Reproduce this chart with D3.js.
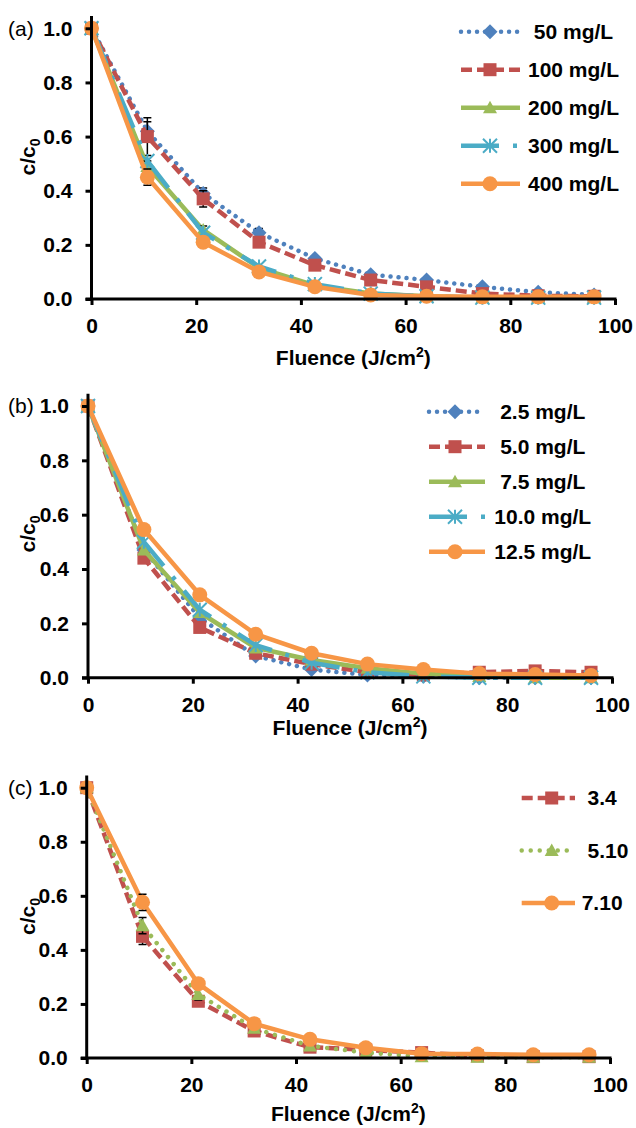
<!DOCTYPE html>
<html><head><meta charset="utf-8">
<script src="https://cdn.jsdelivr.net/npm/d3@7"></script>
<style>
body{margin:0;background:#fff}
svg text{font-family:Arial,"Liberation Sans",sans-serif;white-space:pre}
</style>
</head><body>
<svg id="chart" width="636" height="1128"></svg>
<script>
// ---------- data ----------
const fluence = [0, 10.67, 21.33, 32, 42.67, 53.33, 64, 74.67, 85.33, 96];
const xTicks = [0, 20, 40, 60, 80, 100];
const yTicks = [0, 0.2, 0.4, 0.6, 0.8, 1.0];
const panelTags = ["(a)", "(b)", "(c)"];
const xTitle = "Fluence (J/cm";
const yTitle = "c/c";

// panel (a)
const labelsA = [" 50 mg/L", "100 mg/L", "200 mg/L", "300 mg/L", "400 mg/L"];
const a50  = [1.0, 0.62, 0.39, 0.245, 0.15, 0.09, 0.07, 0.045, 0.025, 0.015];
const a100 = [1.0, 0.60, 0.37, 0.21, 0.125, 0.07, 0.045, 0.02, 0.012, 0.01];
const a200 = [1.0, 0.49, 0.255, 0.115, 0.05, 0.02, 0.01, 0.005, 0.005, 0.005];
const a300 = [1.0, 0.51, 0.245, 0.12, 0.055, 0.02, 0.01, 0.005, 0.005, 0.005];
const a400 = [1.0, 0.45, 0.21, 0.10, 0.045, 0.015, 0.01, 0.008, 0.008, 0.008];
const errA50  = [0, 0.035, 0.02, 0.015, 0.01, 0, 0, 0, 0, 0];
const errA100 = [0, 0.07, 0.03, 0.01, 0.01, 0, 0, 0, 0, 0];
const errA200 = [0, 0.02, 0.015, 0, 0, 0, 0, 0, 0, 0];
const errA300 = [0, 0, 0, 0, 0, 0, 0, 0, 0, 0];
const errA400 = [0, 0.03, 0.01, 0, 0, 0, 0, 0, 0, 0];

// panel (b)
const labelsB = [" 2.5 mg/L", " 5.0 mg/L", " 7.5 mg/L", "10.0 mg/L", "12.5 mg/L"];
const b25  = [1.0, 0.47, 0.22, 0.08, 0.03, 0.01, 0.005, 0.0, 0.0, 0.0];
const b50  = [1.0, 0.44, 0.185, 0.09, 0.05, 0.02, 0.01, 0.02, 0.025, 0.02];
const b75  = [1.0, 0.47, 0.24, 0.11, 0.065, 0.035, 0.015, 0.005, 0.0, 0.0];
const b100 = [1.0, 0.50, 0.25, 0.12, 0.055, 0.02, 0.005, 0.0, 0.0, 0.0];
const b125 = [1.0, 0.545, 0.305, 0.16, 0.09, 0.05, 0.03, 0.015, 0.012, 0.008];

// panel (c)
const labelsC = [" 3.4", " 5.10", "7.10"];
const c34  = [1.0, 0.45, 0.21, 0.10, 0.04, 0.03, 0.02, 0.008, 0.005, 0.005];
const c510 = [1.0, 0.49, 0.235, 0.11, 0.045, 0.02, 0.005, 0.003, 0.003, 0.003];
const c710 = [1.0, 0.576, 0.275, 0.127, 0.069, 0.038, 0.016, 0.015, 0.012, 0.012];
const errC34  = [0, 0.03, 0, 0, 0, 0, 0, 0, 0, 0];
const errC510 = [0, 0.03, 0.02, 0, 0, 0, 0, 0, 0, 0];
const errC710 = [0, 0.03, 0, 0, 0, 0, 0, 0, 0, 0];

// ---------- styles ----------
const STY = {
  blueDot:   {color: "#4F81BD", marker: "diamond",  dash: "0.01,8", cap: "round"},
  redDash:   {color: "#C0504D", marker: "square",   dash: "11,5",   cap: "butt"},
  green:     {color: "#9BBB59", marker: "triangle", dash: null,     cap: "butt"},
  greenDot:  {color: "#9BBB59", marker: "triangle", dash: "0.01,9", cap: "round"},
  teal:      {color: "#4BACC6", marker: "star",     dash: "38,14,4,14", cap: "butt"},
  orange:    {color: "#F79646", marker: "circle",   dash: null,     cap: "butt"}
};

const panels = [
  {tag: panelTags[0], x0: 91.5, x1: 615, y0: 299, y1: 28.3, yTitleY: 157, xTitleBase: 365,
   legend: {lx0: 461, lx1: 520, mx: 490, tx: 528, ry0: 31.7, step: 38},
   series: [
     {label: labelsA[0], v: a50,  e: errA50,  s: STY.blueDot},
     {label: labelsA[1], v: a100, e: errA100, s: STY.redDash},
     {label: labelsA[2], v: a200, e: errA200, s: STY.green},
     {label: labelsA[3], v: a300, e: errA300, s: STY.teal},
     {label: labelsA[4], v: a400, e: errA400, s: STY.orange}
   ]},
  {tag: panelTags[1], x0: 88, x1: 612, y0: 677.7, y1: 406, yTitleY: 534, xTitleBase: 735,
   legend: {lx0: 429, lx1: 485, mx: 455, tx: 494.3, ry0: 411.7, step: 35},
   series: [
     {label: labelsB[0], v: b25,  e: null, s: STY.blueDot},
     {label: labelsB[1], v: b50,  e: null, s: STY.redDash},
     {label: labelsB[2], v: b75,  e: null, s: STY.green},
     {label: labelsB[3], v: b100, e: null, s: STY.teal},
     {label: labelsB[4], v: b125, e: null, s: STY.orange}
   ]},
  {tag: panelTags[2], x0: 86.7, x1: 610, y0: 1058, y1: 787.7, yTitleY: 916.5, xTitleBase: 1121,
   legend: {lx0: 521.7, lx1: 575, mx: 551.7, tx: 581.7, ry0: 798, step: 52.5},
   series: [
     {label: labelsC[0], v: c34,  e: errC34,  s: STY.redDash},
     {label: labelsC[1], v: c510, e: errC510, s: STY.greenDot},
     {label: labelsC[2], v: c710, e: errC710, s: STY.orange}
   ]}
];

const svg = d3.select("#chart");
const LW = 4.5;

function drawMarker(g, shape, cx, cy, color) {
  if (shape === "circle") {
    g.append("circle").attr("cx", cx).attr("cy", cy).attr("r", 7.5).attr("fill", color);
  } else if (shape === "square") {
    g.append("rect").attr("x", cx - 6.5).attr("y", cy - 6.5).attr("width", 13).attr("height", 13).attr("fill", color);
  } else if (shape === "diamond") {
    const r = 7.5;
    g.append("path").attr("d", `M${cx},${cy - r}L${cx + r},${cy}L${cx},${cy + r}L${cx - r},${cy}Z`).attr("fill", color);
  } else if (shape === "triangle") {
    const r = 7;
    g.append("path").attr("d", `M${cx},${cy - r}L${cx + r},${cy + r * 0.8}L${cx - r},${cy + r * 0.8}Z`).attr("fill", color);
  } else if (shape === "star") {
    const r = 7;
    const p = `M${cx},${cy - r}L${cx},${cy + r}M${cx - r},${cy - r}L${cx + r},${cy + r}M${cx - r},${cy + r}L${cx + r},${cy - r}`;
    g.append("path").attr("d", p).attr("stroke", color).attr("stroke-width", 2).attr("fill", "none");
  }
}

panels.forEach(P => {
  const x = d3.scaleLinear().domain([0, 100]).range([P.x0, P.x1]);
  const y = d3.scaleLinear().domain([0, 1]).range([P.y0, P.y1]);
  const g = svg.append("g");

  // series
  const line = d3.line().x((d, i) => x(fluence[i])).y(d => y(d));
  P.series.forEach(S => {
    const sg = g.append("g");
    const path = sg.append("path").datum(S.v).attr("d", line)
      .attr("fill", "none").attr("stroke", S.s.color).attr("stroke-width", LW)
      .attr("stroke-linecap", S.s.cap).attr("stroke-linejoin", "round");
    if (S.s.dash) path.attr("stroke-dasharray", S.s.dash);
    if (S.e) {
      S.v.forEach((v, i) => {
        const e = S.e[i];
        if (!e) return;
        const cx = x(fluence[i]);
        sg.append("path")
          .attr("d", `M${cx},${y(v + e)}L${cx},${y(v - e)}M${cx - 4},${y(v + e)}L${cx + 4},${y(v + e)}M${cx - 4},${y(v - e)}L${cx + 4},${y(v - e)}`)
          .attr("stroke", "#000").attr("stroke-width", 1.5).attr("fill", "none");
      });
    }
    S.v.forEach((v, i) => drawMarker(sg, S.s.marker, x(fluence[i]), y(v), S.s.color));
  });

  // axes
  const yAx = g.append("g").attr("transform", `translate(${P.x0},0)`)
    .call(d3.axisLeft(y).tickValues(yTicks).tickFormat(d3.format(".1f")).tickSize(6).tickPadding(13));
  const xAx = g.append("g").attr("transform", `translate(0,${P.y0})`)
    .call(d3.axisBottom(x).tickValues(xTicks).tickFormat(d3.format("d")).tickSize(6).tickPadding(13));
  [yAx, xAx].forEach(a => {
    a.select(".domain").remove();
    a.selectAll(".tick line").attr("stroke", "#000").attr("stroke-width", 3);
    a.selectAll(".tick text").attr("fill", "#000").attr("font-size", 21).attr("font-weight", "bold")
      .attr("font-family", "Arial, 'Liberation Sans', sans-serif");
  });
  g.append("line").attr("x1", P.x0).attr("x2", P.x0).attr("y1", y(0) + 1.5).attr("y2", y(1.045))
    .attr("stroke", "#000").attr("stroke-width", 3);
  g.append("line").attr("x1", P.x0 - 6).attr("x2", x(100) + 1.5).attr("y1", P.y0).attr("y2", P.y0)
    .attr("stroke", "#000").attr("stroke-width", 3);

  // titles
  const yt = g.append("text").attr("transform", `translate(28,${P.yTitleY}) rotate(-90)`)
    .attr("text-anchor", "middle").attr("dy", "0.35em")
    .attr("font-size", 21).attr("font-weight", "bold");
  yt.append("tspan").text(yTitle);
  yt.append("tspan").attr("font-size", 14).attr("dy", 5).text("0");

  const xt = g.append("text").attr("x", (P.x0 + P.x1) / 2).attr("y", P.xTitleBase)
    .attr("text-anchor", "middle").attr("font-size", 21).attr("font-weight", "bold");
  xt.append("tspan").text(xTitle);
  xt.append("tspan").attr("font-size", 14).attr("dy", -8).text("2");
  xt.append("tspan").attr("dy", 8).text(")");

  g.append("text").attr("x", 8).attr("y", P.y1).attr("dy", "0.35em")
    .attr("font-size", 21).text(P.tag);

  // legend
  const L = P.legend;
  P.series.forEach((S, i) => {
    const ry = L.ry0 + i * L.step;
    const lg = g.append("g");
    const ln = lg.append("line").attr("x1", L.lx0).attr("x2", L.lx1).attr("y1", ry).attr("y2", ry)
      .attr("stroke", S.s.color).attr("stroke-width", LW).attr("stroke-linecap", S.s.cap);
    if (S.s.dash) ln.attr("stroke-dasharray", S.s.dash);
    drawMarker(lg, S.s.marker, L.mx, ry, S.s.color);
    lg.append("text").attr("x", L.tx).attr("y", ry).attr("dy", "0.35em")
      .attr("xml:space", "preserve")
      .attr("font-size", 21).attr("font-weight", "bold").text(S.label);
  });
});
</script>
</body></html>
